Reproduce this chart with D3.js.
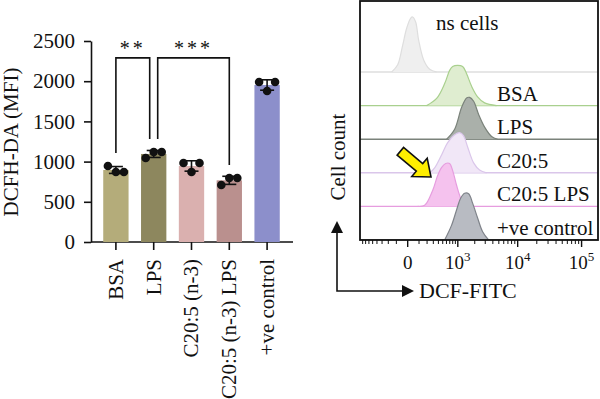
<!DOCTYPE html>
<html lang="en">

<head>
    <meta charset="utf-8" />
    <title>DCFH-DA MFI and DCF-FITC histograms</title>
    <script src="https://cdn.jsdelivr.net/npm/d3@7"></script>
    <style>
        body { margin: 0; background: #fff; }
        text { font-family: 'Liberation Serif', 'Times New Roman', serif; fill: #111; }
    </style>
</head>

<body>
    <div id='chart'></div>
</body>
<script>

    // ---- bar chart data (left) ----
    let groups = ['BSA', 'LPS', 'C20:5 (n-3)', 'C20:5 (n-3) LPS', '+ve control'];
    let replicates = [
        [945, 871, 871],
        [1045, 1120, 1120],
        [983, 871, 983],
        [709, 796, 796],
        [1990, 1878, 1990]
    ];
    let yTicks = [0, 500, 1000, 1500, 2000, 2500];
    let comparisons = [
        ['BSA', 'LPS', '**'],
        ['LPS', 'C20:5 (n-3) LPS', '***']
    ];
    let barColors = ['#b4ac7a', '#8d875e', '#dab0af', '#ba908e', '#8c8fcb'];

    // ---- histogram data (right), [DCF-FITC intensity, % of mode] ----
    let samples = ['ns cells', 'BSA', 'LPS', 'C20:5', 'C20:5 LPS', '+ve control'];
    let histNs = [[-154, 0], [-86, 13], [-39, 49], [-7, 80], [23, 98], [39, 100], [66, 91], [96, 58], [154, 22], [239, 5], [363, 0]];
    let histBsa = [[194, 0], [363, 13], [550, 40], [696, 64], [798, 71], [993, 73], [1226, 71], [1444, 58], [1767, 35], [2236, 16], [2929, 5], [4600, 0]];
    let histLps = [[605, 0], [872, 18], [1176, 58], [1444, 75], [1630, 76], [1912, 69], [2326, 45], [2929, 22], [3817, 5], [4776, 0]];
    let histC205 = [[239, 0], [324, 9], [474, 33], [635, 55], [872, 69], [1081, 73], [1278, 67], [1505, 47], [1912, 18], [2416, 5], [3158, 0]];
    let histC205Lps = [[86, 0], [167, 2], [288, 29], [384, 56], [474, 71], [577, 78], [696, 78], [798, 65], [951, 38], [1081, 20], [1226, 7], [1505, 0]];
    let histPos = [[550, 0], [762, 27], [951, 55], [1128, 76], [1332, 85], [1567, 84], [1837, 67], [2236, 40], [2714, 15], [3410, 0]];
    let histograms = [histNs, histBsa, histLps, histC205, histC205Lps, histPos];
    let histFill = ['#efefef', '#dfedd0', '#aab0aa', '#f1e7f7', '#f5c2ee', '#b8bbc2'];
    let histStroke = ['#dedede', '#a9d08e', '#7a827a', '#dac6ea', '#e69ddf', '#7f838a'];
    let majorTicks = [0, 1e3, 1e4, 1e5];
    let tickExp = ['', '3', '4', '5'];

    let svg = d3.select('#chart')
        .append('svg')
        .attr('width', 600)
        .attr('height', 399);

    // ================= left: bar chart =================
    let y = d3.scaleLinear()
        .domain([0, 2500])
        .range([242, 41]);

    let x = d3.scaleBand()
        .domain(groups)
        .range([97, 286])
        .paddingInner(0.33)
        .paddingOuter(0.165);

    let yAxis = d3.axisLeft(y)
        .tickValues(yTicks)
        .tickFormat(d3.format('d'))
        .tickSize(7)
        .tickSizeOuter(0)
        .tickPadding(9);

    let gy = svg.append('g')
        .attr('transform', 'translate(91,0)')
        .attr('font-family', null)
        .call(yAxis);
    gy.selectAll('text').style('font-size', '21px').attr('fill', '#111');
    gy.selectAll('line, path').attr('stroke', '#111').attr('stroke-width', 1.6);

    let xAxis = d3.axisBottom(x).tickSize(8).tickSizeOuter(0);
    let gx = svg.append('g')
        .attr('transform', 'translate(0,242)')
        .call(xAxis);
    gx.select('.domain').remove();
    gx.append('line')
        .attr('x1', 91).attr('x2', 293)
        .attr('stroke', '#111').attr('stroke-width', 1.6);
    gx.selectAll('.tick line').attr('stroke', '#111').attr('stroke-width', 1.6);
    gx.selectAll('text')
        .attr('transform', 'rotate(-90)')
        .attr('x', -17)
        .attr('y', 0)
        .attr('dy', '0.33em')
        .style('text-anchor', 'end')
        .style('font-size', '21px')
        .attr('fill', '#111');

    let means = replicates.map(d => d3.mean(d));
    let sds = replicates.map(d => d3.deviation(d));

    svg.selectAll('.bar')
        .data(groups)
        .enter().append('rect')
        .attr('class', 'bar')
        .attr('x', d => x(d))
        .attr('width', x.bandwidth())
        .attr('y', (d, i) => y(means[i]))
        .attr('height', (d, i) => y(0) - y(means[i]))
        .attr('fill', (d, i) => barColors[i]);

    let cx = d => x(d) + x.bandwidth() / 2;

    let err = svg.selectAll('.err')
        .data(groups)
        .enter().append('g')
        .attr('class', 'err')
        .attr('stroke', '#111')
        .attr('stroke-width', 1.6);
    err.append('line')
        .attr('x1', d => cx(d)).attr('x2', d => cx(d))
        .attr('y1', (d, i) => y(means[i] - sds[i]))
        .attr('y2', (d, i) => y(means[i] + sds[i]));
    err.append('line')
        .attr('x1', d => cx(d) - 7).attr('x2', d => cx(d) + 7)
        .attr('y1', (d, i) => y(means[i] + sds[i]))
        .attr('y2', (d, i) => y(means[i] + sds[i]));
    err.append('line')
        .attr('x1', d => cx(d) - 7).attr('x2', d => cx(d) + 7)
        .attr('y1', (d, i) => y(means[i] - sds[i]))
        .attr('y2', (d, i) => y(means[i] - sds[i]));

    let dots = [];
    groups.forEach((g, i) => {
        replicates[i].forEach((v, j) => dots.push({ group: g, value: v, k: j - 1 }));
    });
    svg.selectAll('.dot')
        .data(dots)
        .enter().append('circle')
        .attr('class', 'dot')
        .attr('r', 4.3)
        .attr('cx', d => cx(d.group) + d.k * 8)
        .attr('cy', d => y(d.value))
        .attr('fill', '#111');

    // significance brackets
    let topY = y(2290);
    comparisons.forEach(c => {
        let i1 = groups.indexOf(c[0]), i2 = groups.indexOf(c[1]);
        let shared1 = comparisons.some(o => o !== c && o[1] === c[0]);
        let shared2 = comparisons.some(o => o !== c && o[0] === c[1]);
        let x1 = cx(c[0]) + (shared1 ? 4 : 0);
        let x2 = cx(c[1]) - (shared2 ? 4 : 0);
        let y1 = y(d3.max(replicates[i1])) - 13;
        let y2 = y(d3.max(replicates[i2])) - 13;
        svg.append('path')
            .attr('d', 'M' + x1 + ',' + y1 + 'V' + topY + 'H' + x2 + 'V' + y2)
            .attr('fill', 'none')
            .attr('stroke', '#111')
            .attr('stroke-width', 1.6);
        svg.append('text')
            .attr('x', (x1 + x2) / 2)
            .attr('y', topY - 3)
            .attr('text-anchor', 'middle')
            .style('font-size', '20px')
            .style('letter-spacing', '3px')
            .text(c[2]);
    });

    svg.append('text')
        .attr('transform', 'translate(18,142) rotate(-90)')
        .attr('text-anchor', 'middle')
        .style('font-size', '21px')
        .text('DCFH-DA (MFI)');

    // ================= right: offset histograms =================
    let hx = d3.scaleSymlog()
        .constant(200)
        .domain([-900, 180000])
        .range([360, 598]);

    let lane = d3.scalePoint()
        .domain(samples)
        .range([72, 240]);

    let hy = d3.scaleLinear()
        .domain([0, 100])
        .range([0, 55]);

    svg.append('clipPath').attr('id', 'box')
        .append('rect').attr('x', 360).attr('y', 1).attr('width', 238).attr('height', 239);

    let hg = svg.append('g').attr('clip-path', 'url(#box)');

    samples.forEach((s, i) => {
        let base = lane(s);
        let area = d3.area()
            .x(d => hx(d[0]))
            .y0(base)
            .y1(d => base - hy(d[1]))
            .curve(d3.curveCatmullRom);
        let line = d3.line()
            .x(d => hx(d[0]))
            .y(d => base - hy(d[1]))
            .curve(d3.curveCatmullRom);
        hg.append('line')
            .attr('x1', 360).attr('x2', 598)
            .attr('y1', base).attr('y2', base)
            .attr('stroke', histStroke[i])
            .attr('stroke-width', 1.4);
        hg.append('path')
            .datum(histograms[i])
            .attr('d', area)
            .attr('fill', histFill[i]);
        hg.append('path')
            .datum(histograms[i])
            .attr('d', line)
            .attr('fill', 'none')
            .attr('stroke', histStroke[i])
            .attr('stroke-width', 1.2);

        svg.append('text')
            .attr('x', i === 0 ? 436 : 497)
            .attr('y', i === 0 ? 30 : base - 5)
            .style('font-size', '21px')
            .text(s);
    });

    svg.append('rect')
        .attr('x', 360).attr('y', 1)
        .attr('width', 238).attr('height', 239)
        .attr('fill', 'none')
        .attr('stroke', '#111')
        .attr('stroke-width', 1.8);

    // biexponential-like axis ticks
    let minorTicks = [];
    for (let k = 1; k <= 8; k++) minorTicks.push(-k * 100);
    for (let k = 1; k <= 9; k++) minorTicks.push(k * 100);
    [1e3, 1e4].forEach(p => { for (let k = 2; k <= 9; k++) minorTicks.push(k * p); });

    let ta = svg.append('g').attr('stroke', '#111');
    ta.selectAll('.minor')
        .data(minorTicks)
        .enter().append('line')
        .attr('x1', d => hx(d)).attr('x2', d => hx(d))
        .attr('y1', 240).attr('y2', 244)
        .attr('stroke-width', 1);
    ta.selectAll('.major')
        .data(majorTicks)
        .enter().append('line')
        .attr('x1', d => hx(d)).attr('x2', d => hx(d))
        .attr('y1', 240).attr('y2', 247)
        .attr('stroke-width', 1.4);

    let tl = svg.selectAll('.hlabel')
        .data(majorTicks)
        .enter().append('text')
        .attr('x', d => hx(d))
        .attr('y', 269)
        .attr('text-anchor', 'middle')
        .style('font-size', '19px')
        .text(d => d === 0 ? '0' : '10');
    tl.filter((d, i) => i > 0)
        .append('tspan')
        .attr('dy', -8)
        .style('font-size', '13px')
        .text((d, i) => tickExp[i + 1]);

    // axis arrows
    let arr = svg.append('g');
    arr.append('path')
        .attr('d', 'M337,231V291H404')
        .attr('fill', 'none')
        .attr('stroke', '#111')
        .attr('stroke-width', 1.6);
    arr.append('path')
        .attr('d', 'M331,233L337,221L343,233Z')
        .attr('fill', '#111');
    arr.append('path')
        .attr('d', 'M402,285L414,291L402,297Z')
        .attr('fill', '#111');

    svg.append('text')
        .attr('x', 419)
        .attr('y', 298)
        .style('font-size', '22px')
        .text('DCF-FITC');

    svg.append('text')
        .attr('transform', 'translate(345,157) rotate(-90)')
        .attr('text-anchor', 'middle')
        .style('font-size', '21px')
        .text('Cell count');

    // yellow arrow pointing at the C20:5 LPS shift
    let tipX = hx(260), tipY = 177;
    svg.append('path')
        .attr('transform', 'translate(' + tipX + ',' + tipY + ') rotate(40)')
        .attr('d', 'M0,0L-15,-12L-15,-5L-40,-5L-40,5L-15,5L-15,12Z')
        .attr('fill', '#ffee00')
        .attr('stroke', '#111')
        .attr('stroke-width', 1.6)
        .attr('stroke-linejoin', 'miter');

</script>

</html>
